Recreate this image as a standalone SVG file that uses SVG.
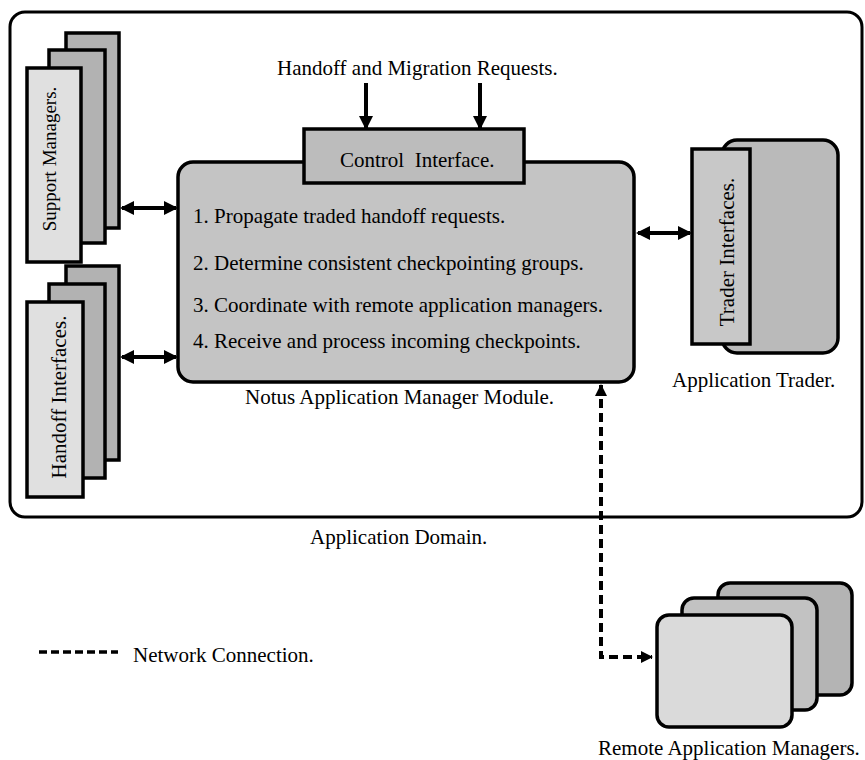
<svg xmlns="http://www.w3.org/2000/svg" width="865" height="760" viewBox="0 0 865 760">
  <style>
    .lbl { font-family: "Liberation Serif", "Times New Roman", serif; font-size: 21px; fill: #000; }
    .edge { stroke: #000; stroke-width: 3.5; stroke-linejoin: miter; }
    .dark { fill: #b2b2b2; }
    .mid { fill: #c4c4c4; }
    .light { fill: #e0e0e0; }
    .conn { stroke: #000; stroke-width: 4; fill: none; }
    .net { stroke: #000; stroke-width: 4; fill: none; stroke-dasharray: 9 5; }
  </style>
  <defs>
    <marker id="head" viewBox="0 0 14 14" refX="12" refY="7" markerWidth="14" markerHeight="14" markerUnits="userSpaceOnUse" orient="auto-start-reverse">
      <path d="M0,0 L14,7 L0,14 Z" fill="#000"/>
    </marker>
    <marker id="headSmall" viewBox="0 0 12 12" refX="11" refY="6" markerWidth="12" markerHeight="12" markerUnits="userSpaceOnUse" orient="auto-start-reverse">
      <path d="M0,0 L12,6 L0,12 Z" fill="#000"/>
    </marker>
  </defs>

  <rect width="865" height="760" fill="#fff"/>

  <!-- application domain boundary -->
  <g id="application-domain">
    <rect x="10" y="12" width="852" height="505" rx="15" fill="none" stroke="#000" stroke-width="3"/>
    <text class="lbl" x="310" y="544">Application Domain.</text>
  </g>

  <!-- support managers stack -->
  <g id="support-managers">
    <rect class="edge dark" x="66" y="33" width="53" height="195"/>
    <rect class="edge dark" x="49" y="50" width="56" height="193"/>
    <rect class="edge light" x="27" y="68" width="54" height="194"/>
    <text class="lbl" style="font-size:19px" text-anchor="middle" transform="translate(56,159) rotate(-90)">Support Managers.</text>
  </g>

  <!-- handoff interfaces stack -->
  <g id="handoff-interfaces">
    <rect class="edge dark" x="66" y="266" width="53" height="194"/>
    <rect class="edge dark" x="49" y="284" width="56" height="194"/>
    <rect class="edge light" x="27" y="302" width="56" height="195"/>
    <text class="lbl" text-anchor="middle" transform="translate(66,397) rotate(-90)">Handoff Interfaces.</text>
  </g>

  <!-- application manager module -->
  <g id="notus-manager">
    <rect class="edge mid" x="178" y="162" width="456" height="220" rx="15"/>
    <text class="lbl" x="193" y="223">1. Propagate traded handoff requests.</text>
    <text class="lbl" x="193" y="270">2. Determine consistent checkpointing groups.</text>
    <text class="lbl" x="193" y="312">3. Coordinate with remote application managers.</text>
    <text class="lbl" x="193" y="348">4. Receive and process incoming checkpoints.</text>
    <text class="lbl" x="245" y="404">Notus Application Manager Module.</text>
  </g>

  <!-- control interface -->
  <g id="control-interface">
    <rect class="edge" fill="#bcbcbc" x="304" y="129" width="220" height="54"/>
    <text class="lbl" x="340" y="167" xml:space="preserve">Control  Interface.</text>
  </g>

  <g id="requests-label">
    <text class="lbl" x="277" y="75">Handoff and Migration Requests.</text>
  </g>

  <!-- application trader -->
  <g id="application-trader">
    <rect class="edge" fill="#bababa" x="722" y="140" width="116" height="213" rx="15"/>
    <rect class="edge" fill="#c8c8c8" x="692" y="149" width="58" height="195"/>
    <text class="lbl" text-anchor="middle" transform="translate(734,252) rotate(-90)">Trader Interfaces.</text>
    <text class="lbl" x="672" y="387">Application Trader.</text>
  </g>

  <!-- remote application managers -->
  <g id="remote-managers">
    <rect class="edge" fill="#b4b4b4" x="718" y="583" width="134" height="112" rx="12"/>
    <rect class="edge" fill="#c2c2c2" x="682" y="598" width="135" height="112" rx="12"/>
    <rect class="edge" fill="#dadada" x="657" y="615" width="135" height="112" rx="12"/>
    <text class="lbl" x="598" y="755">Remote Application Managers.</text>
  </g>

  <!-- legend -->
  <g id="legend">
    <line x1="39" y1="652" x2="118" y2="652" stroke="#000" stroke-width="3.5" stroke-dasharray="8 4"/>
    <text class="lbl" x="133" y="662">Network Connection.</text>
  </g>

  <!-- connectors -->
  <g id="connectors">
    <line class="conn" x1="122" y1="208" x2="176" y2="208" marker-start="url(#head)" marker-end="url(#head)"/>
    <line class="conn" x1="122" y1="357" x2="176" y2="357" marker-start="url(#head)" marker-end="url(#head)"/>
    <line class="conn" x1="638" y1="233" x2="690" y2="233" marker-start="url(#head)" marker-end="url(#head)"/>
    <line class="conn" x1="366" y1="83" x2="366" y2="128" marker-end="url(#head)"/>
    <line class="conn" x1="480" y1="83" x2="480" y2="128" marker-end="url(#head)"/>
    <path class="net" d="M601,385 V657 H652" marker-start="url(#headSmall)" marker-end="url(#headSmall)"/>
  </g>
</svg>
